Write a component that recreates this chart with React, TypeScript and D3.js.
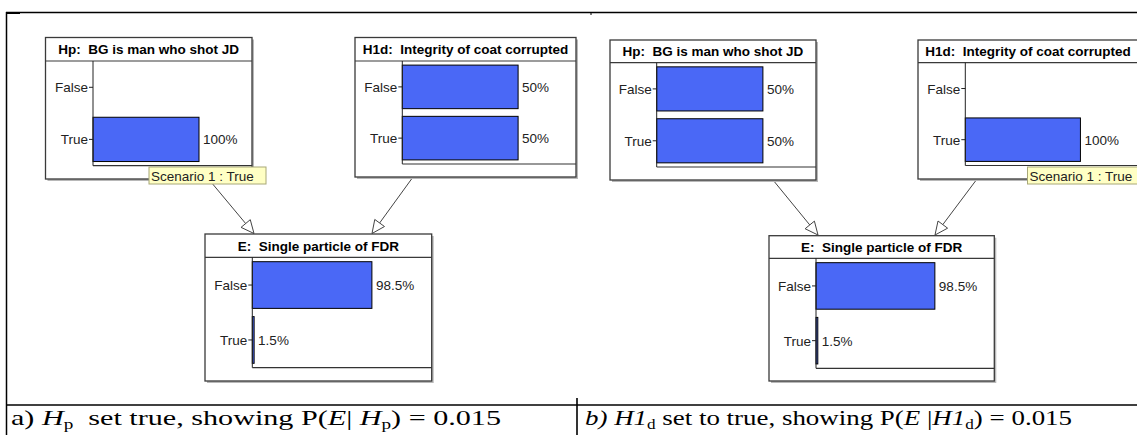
import React from "react";
import * as d3 from "d3";

// ---- data ----
const states = ["False", "True"];
const titleHp = "Hp:  BG is man who shot JD";
const titleH1d = "H1d:  Integrity of coat corrupted";
const titleE = "E:  Single particle of FDR";
const hpA = [0, 100];
const h1dA = [50, 50];
const eA = [98.5, 1.5];
const hpB = [50, 50];
const h1dB = [0, 100];
const eB = [98.5, 1.5];
const scenarioLabel = "Scenario 1 : True";

// ---- layout ----
const W = 1137;
const H = 435;
const BAR = "#4a68f6";
const FONT = "'Liberation Sans', Arial, sans-serif";
const SERIF = "'Liberation Serif', 'Times New Roman', serif";

type Box = { x: number; y: number; w: number; h: number; sepY: number; plotBottom: number; axisX: number };

const boxHpA: Box = { x: 45.5, y: 37.5, w: 206.5, h: 141.5, sepY: 61, plotBottom: 165.7, axisX: 93 };
const boxH1dA: Box = { x: 355, y: 37.5, w: 221, h: 139.5, sepY: 61, plotBottom: 164, axisX: 402.3 };
const boxEA: Box = { x: 205, y: 234, w: 226.7, h: 147, sepY: 257.3, plotBottom: 367.7, axisX: 252.3 };
const boxHpB: Box = { x: 610, y: 40, w: 206, h: 140, sepY: 62.7, plotBottom: 167, axisX: 656.7 };
const boxH1dB: Box = { x: 918, y: 40, w: 220, h: 139, sepY: 62.7, plotBottom: 165.5, axisX: 965.3 };
const boxEB: Box = { x: 769, y: 235.7, w: 225.3, h: 145.3, sepY: 258.3, plotBottom: 368.3, axisX: 816 };

function NodeBox({ box, title, values }: { box: Box; title: string; values: number[] }) {
  const right = box.x + box.w;
  const maxV = d3.max(values) as number;
  const x = d3.scaleLinear().domain([0, maxV * 1.5]).range([box.axisX, right]);
  const y = d3.scaleBand<string>().domain(states).range([box.sepY, box.plotBottom]).paddingInner(0.15).paddingOuter(0.08);
  return (
    <g>
      <rect x={box.x + 2} y={box.y + 2} width={box.w} height={box.h} fill="#b8b8b8" />
      <rect x={box.x} y={box.y} width={box.w} height={box.h} fill="#fff" stroke="#3a3a3a" strokeWidth={1.3} />
      <line x1={box.x} x2={right} y1={box.sepY} y2={box.sepY} stroke="#3a3a3a" strokeWidth={1.2} />
      <text x={box.x + box.w / 2} y={(box.y + box.sepY) / 2 + 5} textAnchor="middle" fontFamily={FONT} fontWeight="bold" fontSize={13.5} fill="#000" style={{ whiteSpace: "pre" }}>
        {title}
      </text>
      {states.map((s, i) => {
        const v = values[i];
        const y0 = y(s) as number;
        const bw = y.bandwidth();
        const cy = y0 + bw / 2;
        return (
          <g key={s}>
            {v > 0 && (
              <rect x={x(0)} y={y0} width={Math.max(0.5, x(v) - x(0))} height={bw} fill={BAR} stroke="#000" strokeWidth={1} />
            )}
            {v > 0 && (
              <text x={x(v) + 4} y={cy + 5} fontFamily={FONT} fontSize={13.5} fill="#222">
                {`${v}%`}
              </text>
            )}
            <line x1={box.axisX - 4} x2={box.axisX} y1={cy} y2={cy} stroke="#222" strokeWidth={1} />
            <text x={box.axisX - 5} y={cy + 5} textAnchor="end" fontFamily={FONT} fontSize={13.5} fill="#222">
              {s}
            </text>
          </g>
        );
      })}
      <line x1={box.axisX} x2={box.axisX} y1={box.sepY} y2={box.plotBottom} stroke="#222" strokeWidth={1} />
      <line x1={box.axisX} x2={right} y1={box.plotBottom} y2={box.plotBottom} stroke="#333" strokeWidth={1.2} />
    </g>
  );
}

function Arrow({ x1, y1, x2, y2 }: { x1: number; y1: number; x2: number; y2: number }) {
  const ang = Math.atan2(y2 - y1, x2 - x1);
  const len = 13;
  const hw = 6;
  const bx = x2 - len * Math.cos(ang);
  const by = y2 - len * Math.sin(ang);
  const px = -Math.sin(ang) * hw;
  const py = Math.cos(ang) * hw;
  const pts = [
    [x2, y2],
    [bx + px, by + py],
    [bx - px, by - py],
  ];
  return (
    <g>
      <line x1={x1} y1={y1} x2={bx} y2={by} stroke="#444" strokeWidth={1} />
      <polygon points={pts.map((p) => p.join(",")).join(" ")} fill="#fff" stroke="#444" strokeWidth={1} />
    </g>
  );
}

function Tooltip({ x, y, w }: { x: number; y: number; w: number }) {
  return (
    <g>
      <rect x={x} y={y} width={w} height={17} fill="#ffffc4" stroke="#a8a878" strokeWidth={1} />
      <text x={x + 2} y={y + 13.5} fontFamily={FONT} fontSize={13.5} fill="#222">
        {scenarioLabel}
      </text>
    </g>
  );
}

export default function App() {
  return (
    <div style={{ position: "absolute", left: 0, top: 0 }}>
      <svg width={W} height={H} style={{ display: "block", background: "#fff" }}>
        {/* table frame */}
        <line x1={6} x2={W} y1={12.5} y2={12.5} stroke="#000" strokeWidth={1.3} />
        <rect x={6} y={12} width={14} height={2} fill="#000" />
        <line x1={6.5} x2={6.5} y1={12} y2={H} stroke="#000" strokeWidth={1.5} />
        <line x1={591} x2={591} y1={12} y2={15} stroke="#000" strokeWidth={1} />
        <line x1={6} x2={W} y1={405} y2={405} stroke="#000" strokeWidth={1.6} />
        <line x1={577} x2={577} y1={398} y2={H} stroke="#000" strokeWidth={1.6} />

        {/* arrows */}
        <Arrow x1={211} y1={182} x2={254} y2={233.5} />
        <Arrow x1={413} y1={177} x2={372} y2={233.5} />
        <Arrow x1={773} y1={180} x2={818} y2={235} />
        <Arrow x1={977} y1={179} x2={935} y2={235} />

        <NodeBox box={boxHpA} title={titleHp} values={hpA} />
        <NodeBox box={boxH1dA} title={titleH1d} values={h1dA} />
        <NodeBox box={boxEA} title={titleE} values={eA} />
        <NodeBox box={boxHpB} title={titleHp} values={hpB} />
        <NodeBox box={boxH1dB} title={titleH1d} values={h1dB} />
        <NodeBox box={boxEB} title={titleE} values={eB} />

        <Tooltip x={149} y={167} w={117} />
        <Tooltip x={1027.5} y={167} w={120} />

        {/* captions */}
        <text x={11} y={425} fontFamily={SERIF} fontSize={22} fill="#000" textLength={490} lengthAdjust="spacingAndGlyphs" style={{ whiteSpace: "pre" }}>
          <tspan>{"a) "}</tspan>
          <tspan fontStyle="italic">H</tspan>
          <tspan dy={4} fontSize={14}>p</tspan>
          <tspan dy={-4}>{"  set true, showing P("}</tspan>
          <tspan fontStyle="italic">E</tspan>
          <tspan>{"| "}</tspan>
          <tspan fontStyle="italic">H</tspan>
          <tspan dy={4} fontSize={14}>p</tspan>
          <tspan dy={-4}>{") = 0.015"}</tspan>
        </text>
        <text x={585} y={425} fontFamily={SERIF} fontSize={22} fill="#000" textLength={487} lengthAdjust="spacingAndGlyphs" style={{ whiteSpace: "pre" }}>
          <tspan fontStyle="italic">{"b) H1"}</tspan>
          <tspan dy={4} fontSize={14}>d</tspan>
          <tspan dy={-4}>{" set to true, showing P("}</tspan>
          <tspan fontStyle="italic">{"E"}</tspan>
          <tspan>{" |"}</tspan>
          <tspan fontStyle="italic">H1</tspan>
          <tspan dy={4} fontSize={14}>d</tspan>
          <tspan dy={-4}>{") = 0.015"}</tspan>
        </text>
      </svg>
    </div>
  );
}
